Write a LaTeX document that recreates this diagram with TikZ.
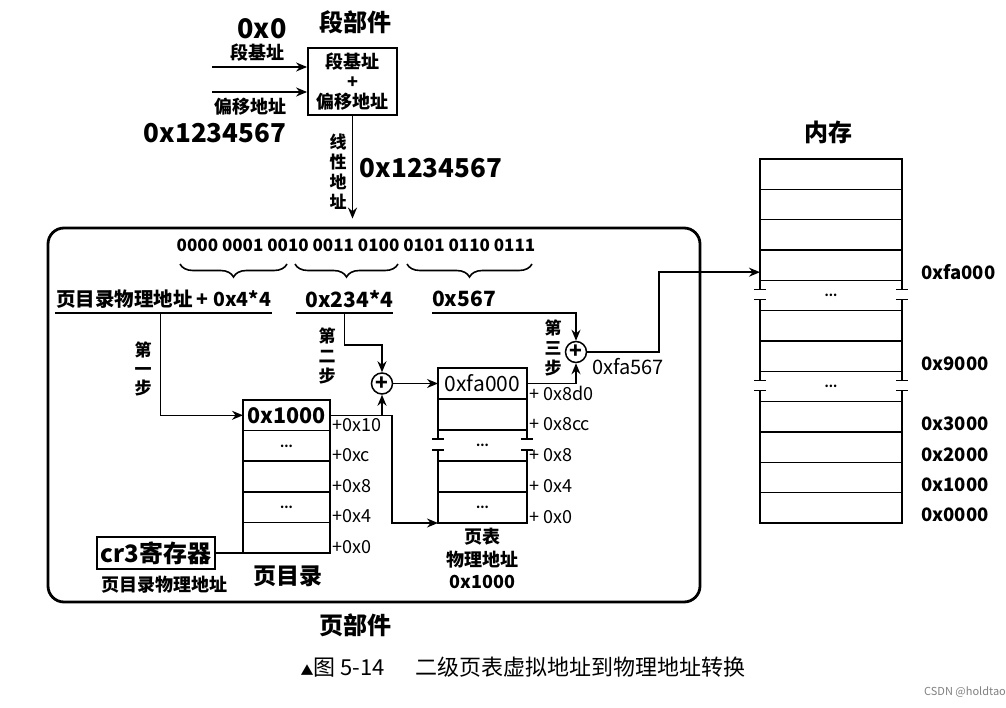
\documentclass[tikz,border=0pt]{standalone}
\usepackage{fontspec}
\setmainfont{Noto Sans CJK SC}
\usetikzlibrary{arrows.meta, positioning, calc, decorations.pathreplacing}
\newcommand{\fsz}[1]{\fontsize{#1}{#1}\selectfont}

\begin{document}
\begin{tikzpicture}[
  x=1pt, y=-1pt,
  every node/.style={font=\fsz{18}\bfseries, inner sep=1pt},
  box/.style={rectangle, draw, line width=1.8pt, minimum width=89pt, minimum height=67pt, align=center, inner sep=0pt, font=\fontsize{18}{20}\selectfont\bfseries},
  cell/.style={rectangle, draw, line width=1.5pt, minimum width=#1, minimum height=30.6pt, inner sep=0pt, outer sep=0pt},
  gapcell/.style={rectangle, minimum width=#1, minimum height=30.6pt, inner sep=0pt, outer sep=0pt},
  adder/.style={circle, draw, line width=1.5pt, minimum size=21pt, inner sep=0pt, font=\fsz{21}\bfseries},
  arrow/.style={-{Stealth[length=11pt, width=9pt]}, line width=1.6pt},
  link/.style={line width=1.6pt},
  uline/.style={minimum height=28pt, inner sep=0pt},
  vtext/.style={align=center, inner sep=0pt, font=\fontsize{17}{20}\selectfont\bfseries},
  offset/.style={anchor=west, inner sep=2pt, font=\fsz{18}\mdseries},
  addr/.style={anchor=west, inner sep=0pt, font=\fsz{18.5}\bfseries},
  dots/.style={font=\fsz{12}\bfseries},
]
\useasboundingbox (0,0) rectangle (1006,708);

% segment part
\node[font=\fsz{24}\bfseries] (segt) at (355,22) {段部件};
\node[box] (seg) at (352.5,81.5) {段基址\\+\\偏移地址};
\node[font=\fsz{27}\bfseries] (base) at (262,29) {0x0};
\node (basel) at (257,53) {段基址};
\coordinate (bin) at (212,67);
\coordinate (oin) at (212,92);
\draw[arrow] (bin) -- (bin -| seg.west);
\draw[arrow] (oin) -- (oin -| seg.west);
\node (offl) at (250,107) {偏移地址};
\node[font=\fsz{26}\bfseries] (offv) at (215,133) {0x1234567};

% page part frame
\node[draw, line width=2.8pt, rounded corners=16pt, minimum width=652pt, minimum height=374pt] (frame) at (374,415) {};
\node[font=\fsz{24}\bfseries] (paget) at (355,625) {页部件};

\draw[arrow, shorten >=8pt] (seg.south) -- (seg.south |- frame.north);
\node[vtext] (lin) at (338,172) {线\\性\\地\\址};
\node[font=\fsz{26}\bfseries] (linv) at (431,168) {0x1234567};

% linear address bits
\node[font=\fsz{17}\bfseries] (bits) at (356,245) {0000 0001 0010 0011 0100 0101 0110 0111};
\draw[link, decorate, decoration={brace, mirror, amplitude=13pt}] (180,264) -- (287,264);
\draw[link, decorate, decoration={brace, mirror, amplitude=13pt}] (295,264) -- (398,264);
\draw[link, decorate, decoration={brace, mirror, amplitude=13pt}] (407,264) -- (532,264);

\node[uline, minimum width=217pt, font=\fsz{19.5}\bfseries] (pdaddr) at (163.5,299) {页目录物理地址 + 0x4*4};
\draw[link] (pdaddr.south west) -- (pdaddr.south east);
\node[uline, text width=97pt, align=right, font=\fsz{21}\bfseries] (idx) at (344.5,299) {0x234*4};
\draw[link] (idx.south west) -- (idx.south east);
\node[uline, anchor=south west, font=\fsz{21}\bfseries] (off) at (432,313) {0x567};

% page directory
\node[cell=87pt, font=\fsz{21.5}\bfseries] (pd1) at (286.5,415.3) {0x1000};
\node[cell=87pt, below=0pt of pd1, dots] (pd2) {...};
\node[cell=87pt, below=0pt of pd2] (pd3) {};
\node[cell=87pt, below=0pt of pd3, dots] (pd4) {...};
\node[cell=87pt, below=0pt of pd4] (pd5) {};
\foreach \c/\t in {pd1/+0x10, pd2/+0xc, pd3/+0x8, pd4/+0x4, pd5/+0x0}
  \node[offset] (o\c) at ([yshift=6pt]\c.south east) {\t};
\node[font=\fsz{23}\bfseries] (pdt) at (288,576) {页目录};

\node[draw, line width=1.4pt, font=\fsz{24}\bfseries, inner sep=2pt, minimum width=118pt, minimum height=32pt] (cr3) at (156,553) {cr3寄存器};
\draw[link] (cr3.east) -- (pd5.south west);
\node (cr3l) at (164,585) {页目录物理地址};

% step one
\draw[arrow] ([xshift=-3pt]pdaddr.south) |- (pd1.west);
\node[vtext, font=\fontsize{17}{19}\selectfont\bfseries] (s1) at (143,369) {第\\一\\步};

% page table
\node[cell=89pt, minimum height=31pt, font=\fsz{21}\mdseries] (pt1) at (482.5,383.5) {0xfa000};
\node[cell=89pt, minimum height=31pt, below=0pt of pt1] (pt2) {};
\node[gapcell=89pt, minimum height=31pt, below=0pt of pt2, dots] (pt3) {...};
\node[cell=89pt, minimum height=31pt, below=0pt of pt3] (pt4) {};
\node[cell=89pt, minimum height=31pt, below=0pt of pt4, dots] (pt5) {...};
\foreach \c/\t in {pt1/+ 0x8d0, pt2/+ 0x8cc, pt3/+ 0x8, pt4/+ 0x4, pt5/+ 0x0}
  \node[offset] (o\c) at ([yshift=6pt]\c.south east) {\t};
\node[below=4pt of pt5, align=center, font=\fontsize{18}{22.5}\selectfont\bfseries] (ptl) {页表\\物理地址\\0x1000};

% step two
\node[adder] (add2) at (382,383.5) {+};
\coordinate (k2) at (382,345);
\draw[arrow] (idx.south) |- (k2) -- (add2.north);
\node[vtext] (s2) at (327,356) {第\\二\\步};
\draw[arrow] (pd1.east) -- ++(62,0) |- (pt5.south west);
\draw[arrow] (pd1.east -| add2.south) -- (add2.south);
\draw[arrow] (add2.east) -- (pt1.west);

% memory
\node[font=\fsz{24}\bfseries] (memt) at (828,132) {内存};
\node[cell=142pt, minimum height=30.33pt] (m1) at (831,174.2) {};
\node[cell=142pt, minimum height=30.33pt, below=0pt of m1] (m2) {};
\node[cell=142pt, minimum height=30.33pt, below=0pt of m2] (m3) {};
\node[cell=142pt, minimum height=30.33pt, below=0pt of m3] (m4) {};
\node[gapcell=142pt, minimum height=30.33pt, below=0pt of m4, dots] (m5) {...};
\node[cell=142pt, minimum height=30.33pt, below=0pt of m5] (m6) {};
\node[cell=142pt, minimum height=30.33pt, below=0pt of m6] (m7) {};
\node[gapcell=142pt, minimum height=30.33pt, below=0pt of m7, dots] (m8) {...};
\node[cell=142pt, minimum height=30.33pt, below=0pt of m8] (m9) {};
\node[cell=142pt, minimum height=30.33pt, below=0pt of m9] (m10) {};
\node[cell=142pt, minimum height=30.33pt, below=0pt of m10] (m11) {};
\node[cell=142pt, minimum height=30.33pt, below=0pt of m11] (m12) {};
\foreach \c/\t in {m4/0xfa000, m7/0x9000, m9/0x3000, m10/0x2000, m11/0x1000, m12/0x0000}
  \node[addr] (a\c) at ([xshift=19pt, yshift=8pt]\c.south east) {\t};

% breaks in the columns
\foreach \c in {pt3, m5, m8}
  \draw[link] (\c.north west) -- ++(0,9) ++(-6,0) -- ++(12,0)
              (\c.north east) -- ++(0,9) ++(-6,0) -- ++(12,0)
              (\c.south west) -- ++(0,-11) ++(-6,0) -- ++(12,0)
              (\c.south east) -- ++(0,-11) ++(-6,0) -- ++(12,0);

% step three
\node[adder] (add3) at (576,352) {+};
\draw[arrow] (off.south west) -| (add3.north);
\draw[arrow] (pt1.east) -| (add3.south);
\node[vtext] (s3) at (553,348) {第\\三\\步};
\node[font=\fsz{20}\mdseries] (pa) at (628,367) {0xfa567};
\draw[arrow] (add3.east) -- ++(72,0) |- ([yshift=-7pt]m4.west);

% caption
\node[font=\fsz{22}\mdseries] (cap) at (523,667) {{\fsz{13}▲}图 5-14\hspace{1.4em}二级页表虚拟地址到物理地址转换};
\node[font=\fsz{11}\mdseries, text=gray] (wm) at (965,692) {CSDN @holdtao};
\end{tikzpicture}
\end{document}
